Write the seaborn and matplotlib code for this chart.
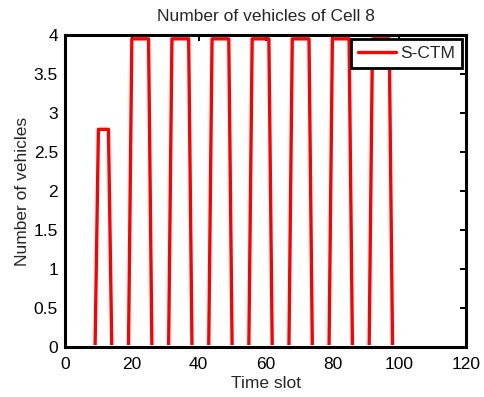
import matplotlib
matplotlib.use("Agg")
import matplotlib.pyplot as plt
from matplotlib.patches import Rectangle
import seaborn as sns
import pandas as pd

# Breakpoints of the S-CTM series (time slot, number of vehicles)
time_slot = [0, 9, 10, 13, 14,
             19, 20, 25, 26,
             31, 32, 37, 38,
             43, 44, 49, 50,
             55, 56, 61, 62,
             67, 68, 73, 74,
             79, 80, 85, 86,
             91, 92, 97, 98,
             120]
vehicles = [0, 0, 2.79, 2.79, 0,
            0, 3.95, 3.95, 0,
            0, 3.95, 3.95, 0,
            0, 3.95, 3.95, 0,
            0, 3.95, 3.95, 0,
            0, 3.95, 3.95, 0,
            0, 3.95, 3.95, 0,
            0, 3.95, 3.95, 0,
            0]
x_ticks = [0, 20, 40, 60, 80, 100, 120]
y_ticks = [0, 0.5, 1, 1.5, 2, 2.5, 3, 3.5, 4]
y_tick_labels = ["0", "0.5", "1", "1.5", "2", "2.5", "3", "3.5", "4"]

sns.set_style("white")
plt.rcParams["font.family"] = ["Liberation Sans", "DejaVu Sans"]
FS = 12.5
plt.rcParams["font.size"] = FS

df = pd.DataFrame({"Time slot": time_slot, "Number of vehicles": vehicles})

fig = plt.figure(figsize=(4.85, 3.97), dpi=100)
ax = fig.add_axes([0.134, 0.126, 0.827, 0.786])

sns.lineplot(data=df, x="Time slot", y="Number of vehicles", ax=ax,
             color="#ff0000", linewidth=2.4, label="S-CTM", sort=False,
             estimator=None)

ax.set_xlim(0, 120)
ax.set_ylim(0, 4)

# the zero-level stretches sit under the bottom axis line, as in the reference
clip = Rectangle((0, 0.027), 120, 10, transform=ax.transData)
for ln in ax.lines:
    ln.set_clip_path(clip)

ax.set_xticks(x_ticks)
ax.set_yticks(y_ticks)
ax.set_yticklabels(y_tick_labels)
ax.tick_params(direction="in", length=4, width=1.4, top=True, right=True,
               labelsize=FS, colors="black")
ax.tick_params(axis="x", pad=7)
ax.tick_params(axis="y", pad=5)
for name, sp in ax.spines.items():
    sp.set_linewidth(2.2)
    sp.set_color("black")
    sp.set_zorder(5)

ax.set_title("Number of vehicles of Cell 8", fontsize=FS, pad=10)
ax.set_xlabel("Time slot", fontsize=FS, labelpad=3)
ax.set_ylabel("Number of vehicles", fontsize=FS, labelpad=3)

leg = ax.legend(loc="upper right", fontsize=FS, frameon=True, fancybox=False,
                borderaxespad=0.25, handlelength=2.2, borderpad=0.4,
                handletextpad=0.2)
leg.get_frame().set_edgecolor("black")
leg.get_frame().set_linewidth(2.0)
leg.get_frame().set_alpha(1)

fig.savefig("out.png", dpi=100)
